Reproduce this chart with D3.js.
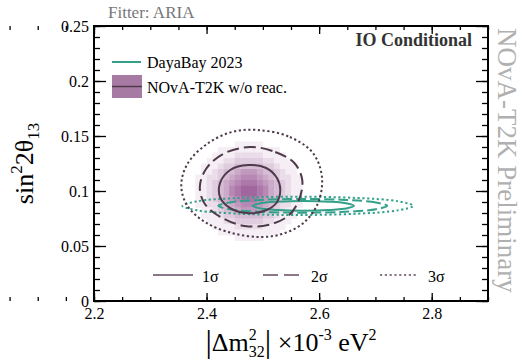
<!DOCTYPE html>
<html>
<head>
<meta charset="utf-8">
<script src="https://cdn.jsdelivr.net/npm/d3@7"></script>
<style>
  html, body { margin: 0; padding: 0; background: #fff; }
  svg { display: block; }
  text { font-family: "Liberation Serif", "DejaVu Serif", serif; }
</style>
</head>
<body>
<svg id="chart" width="522" height="364"></svg>
<script>
// Axis ranges and tick labels
const xDomain = [2.2, 2.9];
const yDomain = [0, 0.25];
const xTicks = [2.2, 2.4, 2.6, 2.8];
const yTicks = [0, 0.05, 0.1, 0.15, 0.2, 0.25];
const xMinorTicks = d3.range(22, 59, 1).map(v => v / 20).filter(v => v <= 2.9);
const yMinorTicks = d3.range(0, 26, 1).map(v => v / 100);

// NOvA-T2K posterior density (shade level 0-9), bins of 0.01 in Δm² and 0.005 in sin²2θ13
const heatXStart = 2.36, heatXStep = 0.01;
const heatYTop = 0.145, heatYStep = 0.005;
const heatRows = [
  "000000000111110000000000",
  "000000111111111110000000",
  "000001111222221111000000",
  "000011122333332211100000",
  "000111233444443321110000",
  "000112344566654432110000",
  "001122345677765432211000",
  "001123456788876543211000",
  "001123457899987543211000",
  "001123457899987543211000",
  "001123456788876543211000",
  "001122345677765432211000",
  "000112344566654432110000",
  "000111233444443321110000",
  "000011122333332211100000",
  "000001111222221111000000",
  "000000111111111110000000",
  "000000000111110000000000"
];

// NOvA-T2K contours [Δm², sin²2θ13]
const nova1Sigma = [
  [2.474, 0.1236], [2.506, 0.1209], [2.525, 0.1118], [2.531, 0.1009],
  [2.524, 0.0891], [2.502, 0.0818], [2.472, 0.0800], [2.442, 0.0845],
  [2.424, 0.0945], [2.424, 0.1073], [2.442, 0.1191]
];
const nova2Sigma = [
  [2.477, 0.1400], [2.522, 0.1355], [2.556, 0.1255], [2.570, 0.1100],
  [2.564, 0.0918], [2.545, 0.0773], [2.509, 0.0691], [2.468, 0.0682],
  [2.428, 0.0755], [2.397, 0.0882], [2.388, 0.1036], [2.399, 0.1200],
  [2.429, 0.1336]
];
const nova3Sigma = [
  [2.490, 0.1555], [2.548, 0.1491], [2.589, 0.1345], [2.605, 0.1127],
  [2.598, 0.0891], [2.572, 0.0709], [2.534, 0.0609], [2.495, 0.0582],
  [2.445, 0.0618], [2.397, 0.0718], [2.365, 0.0873], [2.355, 0.1055],
  [2.367, 0.1255], [2.403, 0.1436], [2.445, 0.1536]
];

// Daya Bay 2023 contours [Δm², sin²2θ13]
const dayabay1Sigma = [
  [2.662, 0.0865], [2.650, 0.0887], [2.617, 0.0903], [2.572, 0.0909],
  [2.527, 0.0903], [2.494, 0.0887], [2.482, 0.0865], [2.494, 0.0843],
  [2.527, 0.0827], [2.572, 0.0821], [2.617, 0.0827], [2.650, 0.0843]
];
const dayabay2Sigma = [
  [2.721, 0.0865], [2.701, 0.0896], [2.646, 0.0919], [2.571, 0.0927],
  [2.496, 0.0919], [2.441, 0.0896], [2.421, 0.0865], [2.441, 0.0834],
  [2.496, 0.0811], [2.571, 0.0803], [2.646, 0.0811], [2.701, 0.0834]
];
const dayabay3Sigma = [
  [2.767, 0.0865], [2.740, 0.0907], [2.665, 0.0937], [2.562, 0.0948],
  [2.460, 0.0937], [2.384, 0.0907], [2.357, 0.0865], [2.384, 0.0824],
  [2.460, 0.0793], [2.562, 0.0782], [2.665, 0.0793], [2.740, 0.0824]
];

const sigmaLabels = ["1σ", "2σ", "3σ"];

// ---- drawing ----
const frame = { left: 94, right: 488, top: 26, bottom: 301 };
const svg = d3.select("#chart");

const x = d3.scaleLinear(xDomain, [frame.left, frame.right]);
const y = d3.scaleLinear(yDomain, [frame.bottom, frame.top]);

const novaLine = "#4d3a4b";
const novaFill = "#a67aa3";
const teal = "#33a08a";
const shade = d3.scaleLinear([0, 9], ["#ffffff", "#a2669e"]);

// density cells
const cells = [];
heatRows.forEach((row, j) => {
  row.split("").forEach((c, i) => {
    const v = +c;
    if (v > 0) cells.push({ x0: heatXStart + i * heatXStep, y1: heatYTop - j * heatYStep, v });
  });
});
svg.append("g").selectAll("rect").data(cells).join("rect")
  .attr("x", d => x(d.x0))
  .attr("y", d => y(d.y1))
  .attr("width", d => x(d.x0 + heatXStep) - x(d.x0) + 0.4)
  .attr("height", d => y(d.y1 - heatYStep) - y(d.y1) + 0.4)
  .attr("fill", d => shade(d.v));

const contour = d3.line().x(d => x(d[0])).y(d => y(d[1])).curve(d3.curveCatmullRomClosed.alpha(0.5));

const contours = [
  { pts: dayabay3Sigma, color: teal, dash: "2.2,2.6" },
  { pts: dayabay2Sigma, color: teal, dash: "10,4" },
  { pts: dayabay1Sigma, color: teal, dash: null },
  { pts: nova3Sigma, color: novaLine, dash: "2.2,2.6" },
  { pts: nova2Sigma, color: novaLine, dash: "12,5" },
  { pts: nova1Sigma, color: novaLine, dash: null }
];
svg.append("g").selectAll("path").data(contours).join("path")
  .attr("d", d => contour(d.pts))
  .attr("fill", "none")
  .attr("stroke", d => d.color)
  .attr("stroke-width", 2)
  .attr("stroke-dasharray", d => d.dash);

// axes with inward ticks on all four sides
function styleAxis(g) {
  g.select(".domain").remove();
  g.selectAll("line").attr("stroke", "#000").attr("stroke-width", 1.3);
  g.selectAll("text").attr("font-family", "Liberation Serif").attr("font-size", 16).attr("fill", "#000");
}
const fmt = d => (d === 0 ? "0" : String(d));

svg.append("g").attr("transform", `translate(0,${frame.bottom})`)
  .call(d3.axisBottom(x).tickValues(xMinorTicks).tickSize(-4).tickFormat(""))
  .call(styleAxis);
svg.append("g").attr("transform", `translate(0,${frame.bottom})`)
  .call(d3.axisBottom(x).tickValues(xTicks).tickSize(-8).tickPadding(7).tickFormat(d3.format(".1f")))
  .call(styleAxis);
svg.append("g").attr("transform", `translate(0,${frame.top})`)
  .call(d3.axisTop(x).tickValues(xMinorTicks).tickSize(-4).tickFormat(""))
  .call(styleAxis);
svg.append("g").attr("transform", `translate(0,${frame.top})`)
  .call(d3.axisTop(x).tickValues(xTicks).tickSize(-8).tickFormat(""))
  .call(styleAxis);

svg.append("g").attr("transform", `translate(${frame.left},0)`)
  .call(d3.axisLeft(y).tickValues(yMinorTicks).tickSize(-6).tickFormat(""))
  .call(styleAxis);
svg.append("g").attr("transform", `translate(${frame.left},0)`)
  .call(d3.axisLeft(y).tickValues(yTicks).tickSize(-12).tickPadding(5).tickFormat(fmt))
  .call(styleAxis);
svg.append("g").attr("transform", `translate(${frame.right},0)`)
  .call(d3.axisRight(y).tickValues(yMinorTicks).tickSize(-6).tickFormat(""))
  .call(styleAxis);
svg.append("g").attr("transform", `translate(${frame.right},0)`)
  .call(d3.axisRight(y).tickValues(yTicks).tickSize(-12).tickFormat(""))
  .call(styleAxis);

// frame
svg.append("rect")
  .attr("x", frame.left).attr("y", frame.top)
  .attr("width", frame.right - frame.left).attr("height", frame.bottom - frame.top)
  .attr("fill", "none").attr("stroke", "#000").attr("stroke-width", 2);

// legend: datasets
const lg = svg.append("g");
lg.append("line").attr("x1", 112).attr("x2", 141).attr("y1", 62).attr("y2", 62)
  .attr("stroke", teal).attr("stroke-width", 2);
lg.append("text").attr("x", 147).attr("y", 68).attr("font-size", 16).text("DayaBay 2023");
lg.append("rect").attr("x", 112).attr("y", 75).attr("width", 30).attr("height", 23).attr("fill", novaFill);
lg.append("line").attr("x1", 112).attr("x2", 142).attr("y1", 86.5).attr("y2", 86.5)
  .attr("stroke", novaLine).attr("stroke-width", 1.5);
lg.append("text").attr("x", 147).attr("y", 93).attr("font-size", 16).text("NOvA-T2K w/o reac.");

// legend: confidence levels
const sigmaLegend = sigmaLabels.map((label, i) => ({
  label,
  x0: [153, 263, 380][i], x1: [193, 303, 418][i], tx: [202, 311, 428][i],
  dash: [null, "15,6", "2.2,2.6"][i]
}));
const sl = svg.append("g").selectAll("g").data(sigmaLegend).join("g");
sl.append("line")
  .attr("x1", d => d.x0).attr("x2", d => d.x1).attr("y1", 275).attr("y2", 275)
  .attr("stroke", "#8a7888").attr("stroke-width", 1.8)
  .attr("stroke-dasharray", d => d.dash);
sl.append("text").attr("x", d => d.tx).attr("y", 282).attr("font-size", 16).text(d => d.label);

// annotations
svg.append("text").attr("x", 472).attr("y", 46).attr("text-anchor", "end")
  .attr("font-size", 18).attr("font-weight", "bold").attr("fill", "#333").text("IO Conditional");
svg.append("text").attr("x", 108).attr("y", 18).attr("font-size", 17).attr("fill", "#777").text("Fitter: ARIA");
svg.append("text").attr("transform", "translate(498,28) rotate(90)")
  .attr("font-size", 27).attr("fill", "#b0b0b0").text("NOvA-T2K Preliminary");

// y axis title: sin²2θ13
const yt = svg.append("text").attr("transform", `translate(33,${(frame.top + frame.bottom) / 2}) rotate(-90)`)
  .attr("text-anchor", "middle").attr("font-size", 26);
yt.append("tspan").text("sin");
yt.append("tspan").attr("font-size", 17).attr("dy", -11).text("2");
yt.append("tspan").attr("dy", 11).text("2θ");
yt.append("tspan").attr("font-size", 17).attr("dy", 6).text("13");

// x axis title: |Δm²32| ×10⁻³ eV²
const xt = svg.append("text").attr("x", (frame.left + frame.right) / 2).attr("y", 351)
  .attr("text-anchor", "middle").attr("font-size", 26);
xt.append("tspan").attr("font-size", 32).attr("dy", 1).text("|");
xt.append("tspan").attr("dy", -1).text("Δm");
xt.append("tspan").attr("font-size", 16).attr("dy", -11).text("2");
xt.append("tspan").attr("font-size", 16).attr("dx", -8).attr("dy", 17).text("32");
xt.append("tspan").attr("font-size", 32).attr("dy", -5).text("|");
xt.append("tspan").attr("dy", -1).text(" ×10");
xt.append("tspan").attr("font-size", 16).attr("dy", -11).text("-3");
xt.append("tspan").attr("dy", 11).text(" eV");
xt.append("tspan").attr("font-size", 16).attr("dy", -11).text("2");
</script>
</body>
</html>
